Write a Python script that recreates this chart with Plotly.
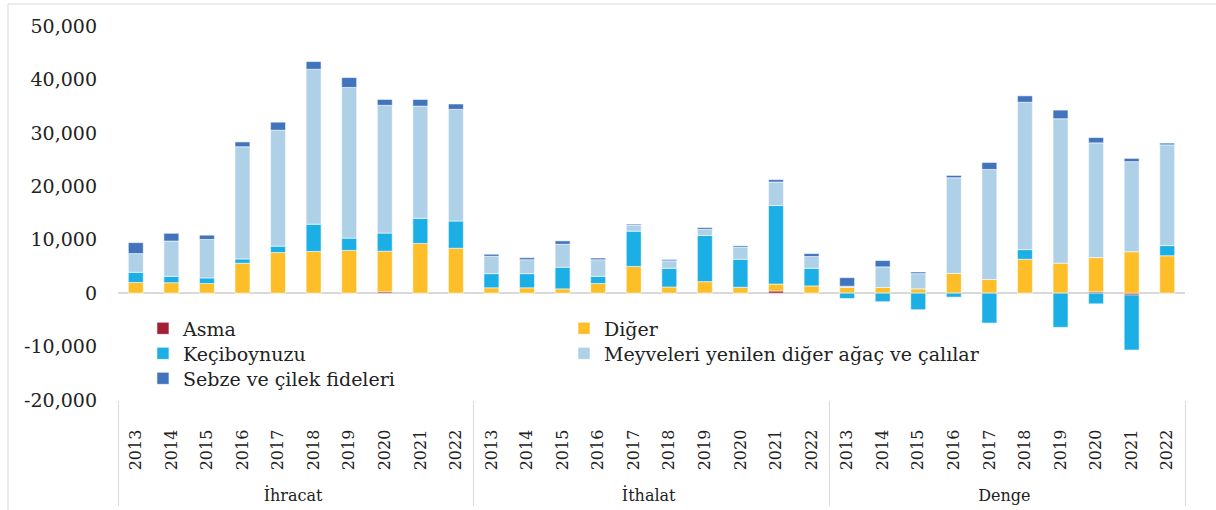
import plotly.graph_objects as go

# Categories
years = ["2013", "2014", "2015", "2016", "2017", "2018", "2019", "2020", "2021", "2022"]
groups = ["İhracat", "İthalat", "Denge"]

# Series values (bin $), ordered İhracat 2013-2022, İthalat 2013-2022, Denge 2013-2022
asma = [0, 0, 0, 0, 0, 0, 0, 250, 0, 0,
        0, 0, 0, 0, 0, 0, 0, 0, 400, 0,
        0, 0, 0, 0, 0, 0, 0, 250, -350, 0]
diger = [2000, 1950, 1800, 5600, 7600, 7800, 8000, 7600, 9300, 8400,
         1000, 1000, 800, 1800, 5000, 1150, 2150, 1100, 1300, 1350,
         1050, 1050, 800, 3700, 2550, 6350, 5600, 6400, 7750, 7000]
keciboynuzu = [1900, 1200, 1050, 800, 1200, 5100, 2300, 3400, 4700, 5100,
               2650, 2650, 4050, 1350, 6600, 3500, 8650, 5250, 14700, 3300,
               -1000, -1600, -3100, -750, -5600, 1800, -6400, -2000, -10300, 1900]
meyveleri = [3500, 6600, 7200, 21000, 21700, 29000, 28200, 23900, 21000, 20900,
             3250, 2600, 4300, 3100, 1150, 1400, 1150, 2250, 4400, 2200,
             250, 3870, 2850, 17900, 20600, 27580, 27040, 21480, 16860, 18860]
sebze = [2050, 1450, 800, 900, 1500, 1450, 1850, 1100, 1250, 1000,
         380, 380, 630, 320, 180, 250, 320, 260, 450, 560,
         1600, 1180, 310, 430, 1310, 1200, 1620, 990, 610, 320]

series_names = ["Asma", "Diğer", "Keçiboynuzu", "Meyveleri yenilen diğer ağaç ve çalılar",
                "Sebze ve çilek fideleri"]

# Y-axis ticks
y_tickvals = [-20000, -10000, 0, 10000, 20000, 30000, 40000, 50000]
y_ticktext = ["-20,000", "-10,000", "0", "10,000", "20,000", "30,000", "40,000", "50,000"]

colors = ["#A31F34", "#FDBE28", "#1CAFE5", "#AFD1E8", "#4274BD"]
series_values = [asma, diger, keciboynuzu, meyveleri, sebze]

# Year labels padded with no-break spaces so the group row sits lower
year_cats = [y + "\u00a0" * 5 for y in years]
x_multi = [[g for g in groups for _ in years], year_cats * len(groups)]

font_family = "DejaVu Serif"
text_color = "#222222"

# One small legend per entry, laid out in two columns
legend_ids = ["legend", "legend2", "legend3", "legend4", "legend5"]
legend_pos = [(0.0234, 0.242), (0.418, 0.242), (0.0234, 0.1751), (0.418, 0.1751), (0.0234, 0.1083)]

fig = go.Figure()
for name, vals, col, lid in zip(series_names, series_values, colors, legend_ids):
    fig.add_trace(go.Bar(
        x=x_multi, y=vals, name=name, legend=lid,
        marker=dict(color=col, line=dict(color="rgba(255,255,255,0.55)", width=1)),
    ))

legend_common = dict(
    orientation="v", xanchor="left", yanchor="top",
    font=dict(size=19, family=font_family, color=text_color),
    bgcolor="rgba(0,0,0,0)", itemclick=False, itemdoubleclick=False,
)
legend_layout = {lid: dict(x=px, y=py, **legend_common) for lid, (px, py) in zip(legend_ids, legend_pos)}

fig.update_layout(
    width=1216, height=510,
    margin=dict(l=118, r=31, t=26, b=110),
    barmode="relative",
    bargap=0.58,
    paper_bgcolor="white",
    plot_bgcolor="white",
    font=dict(family=font_family, color=text_color, size=19),
    showlegend=True,
    xaxis=dict(
        type="multicategory",
        tickangle=-90,
        tickfont=dict(size=16, family=font_family, color=text_color),
        showdividers=True, dividercolor="#D9D9D9", dividerwidth=1,
        showgrid=False, showline=False, ticks="", automargin=False,
    ),
    yaxis=dict(
        range=[-20000, 50000],
        tickvals=y_tickvals, ticktext=y_ticktext,
        tickfont=dict(size=19, family=font_family, color=text_color),
        showgrid=False, showline=False, ticks="", automargin=False,
        zeroline=True, zerolinecolor="#D9D9D9", zerolinewidth=2,
        ticklabelstandoff=20,
    ),
    shapes=[dict(
        type="rect", xref="paper", yref="paper",
        x0=-0.1031, x1=1.04, y0=-0.31, y1=1.0588,
        line=dict(color="#D9D9D9", width=1), fillcolor="rgba(0,0,0,0)", layer="below",
    )],
    **legend_layout,
)

fig.write_html("out.html", config={"displayModeBar": False})
